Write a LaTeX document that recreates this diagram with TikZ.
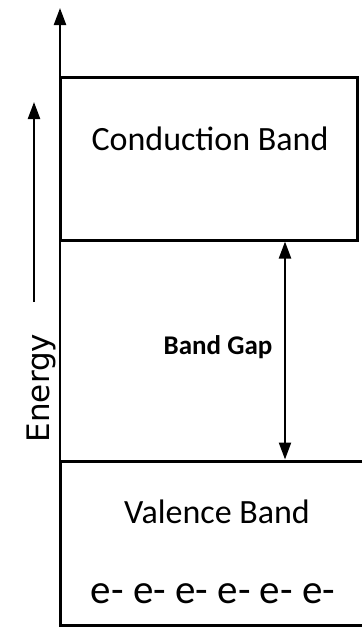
\documentclass[tikz,border=0pt]{standalone}
\usepackage{fontspec}
\setmainfont{Carlito}
\newfontfamily\energyfont{DejaVu Sans}
\usetikzlibrary{arrows.meta}

\tikzset{every picture/.style={line width=0.75pt}}
\tikzset{bandline/.style={line width=3},
	arrowline/.style={line width=2.2},
	bandtip/.tip={Triangle[length=17,width=12]}}

\begin{document}
\begin{tikzpicture}[x=1pt,y=1pt,yscale=-1,xscale=1]
	\useasboundingbox (0,0) rectangle (362,629);

	%Shape: Rectangle [conduction band]
	\draw [bandline] (60,77) rectangle (357,240);
	%Shape: Open box [valence band]
	\draw [bandline] (362,461) -- (60,461) -- (60,625) -- (362,625);

	%Straight Lines [energy axis]
	\coordinate (axisbot) at (60,627);
	\coordinate (axistop) at (60,8);
	\draw [arrowline, -{bandtip}] (axisbot) -- (axistop);
	%Straight Lines [energy arrow]
	\coordinate (enbot) at (34,302);
	\coordinate (entop) at (34,102);
	\draw [arrowline, -{bandtip}] (enbot) -- (entop);
	%Straight Lines [band gap]
	\coordinate (gaptop) at (285,241.5);
	\coordinate (gapbot) at (285,459.5);
	\draw [arrowline, {bandtip}-{bandtip}] (gaptop) -- (gapbot);

	% Text Node
	\node (cond) at (210,139) {\fontsize{34}{34}\selectfont Conduction Band};
	% Text Node
	\node (gap) at (218,347) {\fontsize{27}{27}\selectfont\bfseries Band Gap};
	% Text Node
	\node (val) at (217,512) {\fontsize{34}{34}\selectfont Valence Band};
	% Text Node
	\node (elec) at (213,594) {\fontsize{41}{41}\selectfont e- e- e- e- e- e-};
	% Text Node
	\node [rotate=90] (energy) at (41,388) {\energyfont\fontsize{31}{31}\selectfont Energy};

\end{tikzpicture}
\end{document}
